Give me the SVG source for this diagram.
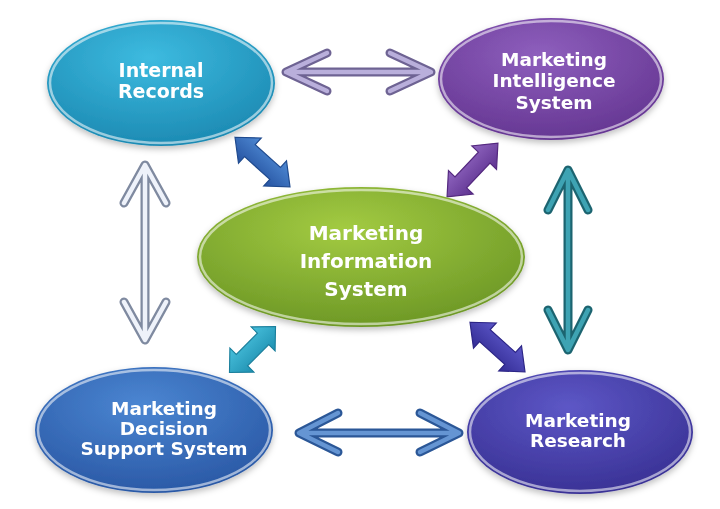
<svg xmlns="http://www.w3.org/2000/svg" width="720" height="509" viewBox="0 0 720 509">
<defs>
<style>
.lbl{font-family:"DejaVu Sans","Open Sans",sans-serif;font-weight:bold;fill:#ffffff;text-anchor:middle}
.rim{fill:none;stroke:#ffffff;stroke-opacity:0.55;stroke-width:2.5}
.oo{fill:none;stroke-linecap:round;stroke-linejoin:round}
.blk{stroke-width:1.2;stroke-linejoin:miter}
</style>
<radialGradient id="gIR" cx="0.45" cy="0.3" r="0.75"><stop offset="0" stop-color="#3dbbe0"/><stop offset="1" stop-color="#1a87b0"/></radialGradient>
<radialGradient id="gMI" cx="0.45" cy="0.3" r="0.75"><stop offset="0" stop-color="#8e5fbd"/><stop offset="1" stop-color="#633490"/></radialGradient>
<radialGradient id="gMIS" cx="0.45" cy="0.3" r="0.75"><stop offset="0" stop-color="#a3cb42"/><stop offset="1" stop-color="#6a9524"/></radialGradient>
<radialGradient id="gDS" cx="0.45" cy="0.3" r="0.75"><stop offset="0" stop-color="#4b86d2"/><stop offset="1" stop-color="#2856a3"/></radialGradient>
<radialGradient id="gMR" cx="0.45" cy="0.3" r="0.75"><stop offset="0" stop-color="#5d57c6"/><stop offset="1" stop-color="#372f92"/></radialGradient>
<linearGradient id="bBlue" x1="0" y1="0" x2="0" y2="1"><stop offset="0" stop-color="#4f8ad4"/><stop offset="1" stop-color="#2552a0"/></linearGradient>
<linearGradient id="bPurp" x1="0" y1="0" x2="0" y2="1"><stop offset="0" stop-color="#9066c0"/><stop offset="1" stop-color="#5e3290"/></linearGradient>
<linearGradient id="bCyan" x1="0" y1="0" x2="0" y2="1"><stop offset="0" stop-color="#48c0dc"/><stop offset="1" stop-color="#1e8fb0"/></linearGradient>
<linearGradient id="bInd" x1="0" y1="0" x2="0" y2="1"><stop offset="0" stop-color="#5c57c8"/><stop offset="1" stop-color="#332c94"/></linearGradient>
<filter id="sh" x="-20%" y="-20%" width="140%" height="150%"><feDropShadow dx="0" dy="3" stdDeviation="3" flood-color="#000" flood-opacity="0.25"/></filter>
<polygon id="blockArrow" points="-37,0 -17,-17 -17,-8 17,-8 17,-17 37,0 17,17 17,8 -17,8 -17,17"/>
</defs>
<rect width="720" height="509" fill="#ffffff"/>

<g id="connectors">
  <!-- top: Internal Records <-> Marketing Intelligence -->
  <g id="c-ir-mi">
    <path class="oo" d="M288 72 H428 M327 53 L286 72 L327 91 M390 53 L431 72 L390 91" stroke="#6e6393" stroke-width="9"/>
    <path class="oo" d="M288 72 H428 M327 53 L286 72 L327 91 M390 53 L431 72 L390 91" stroke="#b9afdb" stroke-width="4.5"/>
  </g>
  <!-- bottom: Decision Support <-> Research -->
  <g id="c-ds-mr">
    <path class="oo" d="M301 433 H457 M338 413 L299 433 L338 452 M420 413 L459 433 L420 452" stroke="#2b5797" stroke-width="9"/>
    <path class="oo" d="M301 433 H457 M338 413 L299 433 L338 452 M420 413 L459 433 L420 452" stroke="#6595d3" stroke-width="4.5"/>
  </g>
  <!-- left vertical: Internal Records <-> Decision Support -->
  <g id="c-ir-ds">
    <path class="oo" d="M145 167 V338 M124 203 L145 165 L166 203 M124 302 L145 340 L166 302" stroke="#7f8aa0" stroke-width="9"/>
    <path class="oo" d="M145 167 V338 M124 203 L145 165 L166 203 M124 302 L145 340 L166 302" stroke="#eef2fa" stroke-width="4.5"/>
  </g>
  <!-- right vertical: Marketing Intelligence <-> Research -->
  <g id="c-mi-mr">
    <path class="oo" d="M568 172 V348 M548 210 L568 170 L588 210 M548 310 L568 350 L588 310" stroke="#1c6470" stroke-width="9"/>
    <path class="oo" d="M568 172 V348 M548 210 L568 170 L588 210 M548 310 L568 350 L588 310" stroke="#3ea3b3" stroke-width="4.5"/>
  </g>
  <!-- block arrows to the centre -->
  <use id="c-ir-mis" href="#blockArrow" class="blk" fill="url(#bBlue)" stroke="#1f4a8e" transform="translate(262.5 162) rotate(42)"/>
  <use id="c-mi-mis" href="#blockArrow" class="blk" fill="url(#bPurp)" stroke="#54297f" transform="translate(472.5 170) rotate(-46.6)"/>
  <use id="c-ds-mis" href="#blockArrow" class="blk" fill="url(#bCyan)" stroke="#1b7f9c" transform="translate(252.5 349.5) rotate(-45) scale(0.88 1)"/>
  <use id="c-mr-mis" href="#blockArrow" class="blk" fill="url(#bInd)" stroke="#2c2586" transform="translate(497.5 347) rotate(42)"/>
</g>

<g id="internal-records" filter="url(#sh)">
  <ellipse cx="161" cy="83" rx="114" ry="63" fill="url(#gIR)"/>
  <ellipse cx="161" cy="83" rx="111" ry="60" class="rim"/>
  <text class="lbl" font-size="19" x="161" y="77">Internal</text>
  <text class="lbl" font-size="19" x="161" y="98">Records</text>
</g>

<g id="marketing-intelligence" filter="url(#sh)">
  <ellipse cx="551" cy="79" rx="113" ry="61" fill="url(#gMI)"/>
  <ellipse cx="551" cy="79" rx="110" ry="58" class="rim"/>
  <text class="lbl" font-size="18.5" x="554" y="66">Marketing</text>
  <text class="lbl" font-size="18.5" x="554" y="87">Intelligence</text>
  <text class="lbl" font-size="18.5" x="554" y="109">System</text>
</g>

<g id="marketing-information-system" filter="url(#sh)">
  <ellipse cx="361" cy="257" rx="164" ry="70" fill="url(#gMIS)"/>
  <ellipse cx="361" cy="257" rx="161" ry="67" class="rim"/>
  <text class="lbl" font-size="20" x="366" y="240">Marketing</text>
  <text class="lbl" font-size="20" x="366" y="268">Information</text>
  <text class="lbl" font-size="20" x="366" y="296">System</text>
</g>

<g id="decision-support" filter="url(#sh)">
  <ellipse cx="154" cy="430" rx="119" ry="63" fill="url(#gDS)"/>
  <ellipse cx="154" cy="430" rx="116" ry="60" class="rim"/>
  <text class="lbl" font-size="18.5" x="164" y="415">Marketing</text>
  <text class="lbl" font-size="18.5" x="164" y="435">Decision</text>
  <text class="lbl" font-size="18.5" x="164" y="455">Support System</text>
</g>

<g id="marketing-research" filter="url(#sh)">
  <ellipse cx="580" cy="432" rx="113" ry="62" fill="url(#gMR)"/>
  <ellipse cx="580" cy="432" rx="110" ry="59" class="rim"/>
  <text class="lbl" font-size="18.5" x="578" y="427">Marketing</text>
  <text class="lbl" font-size="18.5" x="578" y="447">Research</text>
</g>
</svg>
